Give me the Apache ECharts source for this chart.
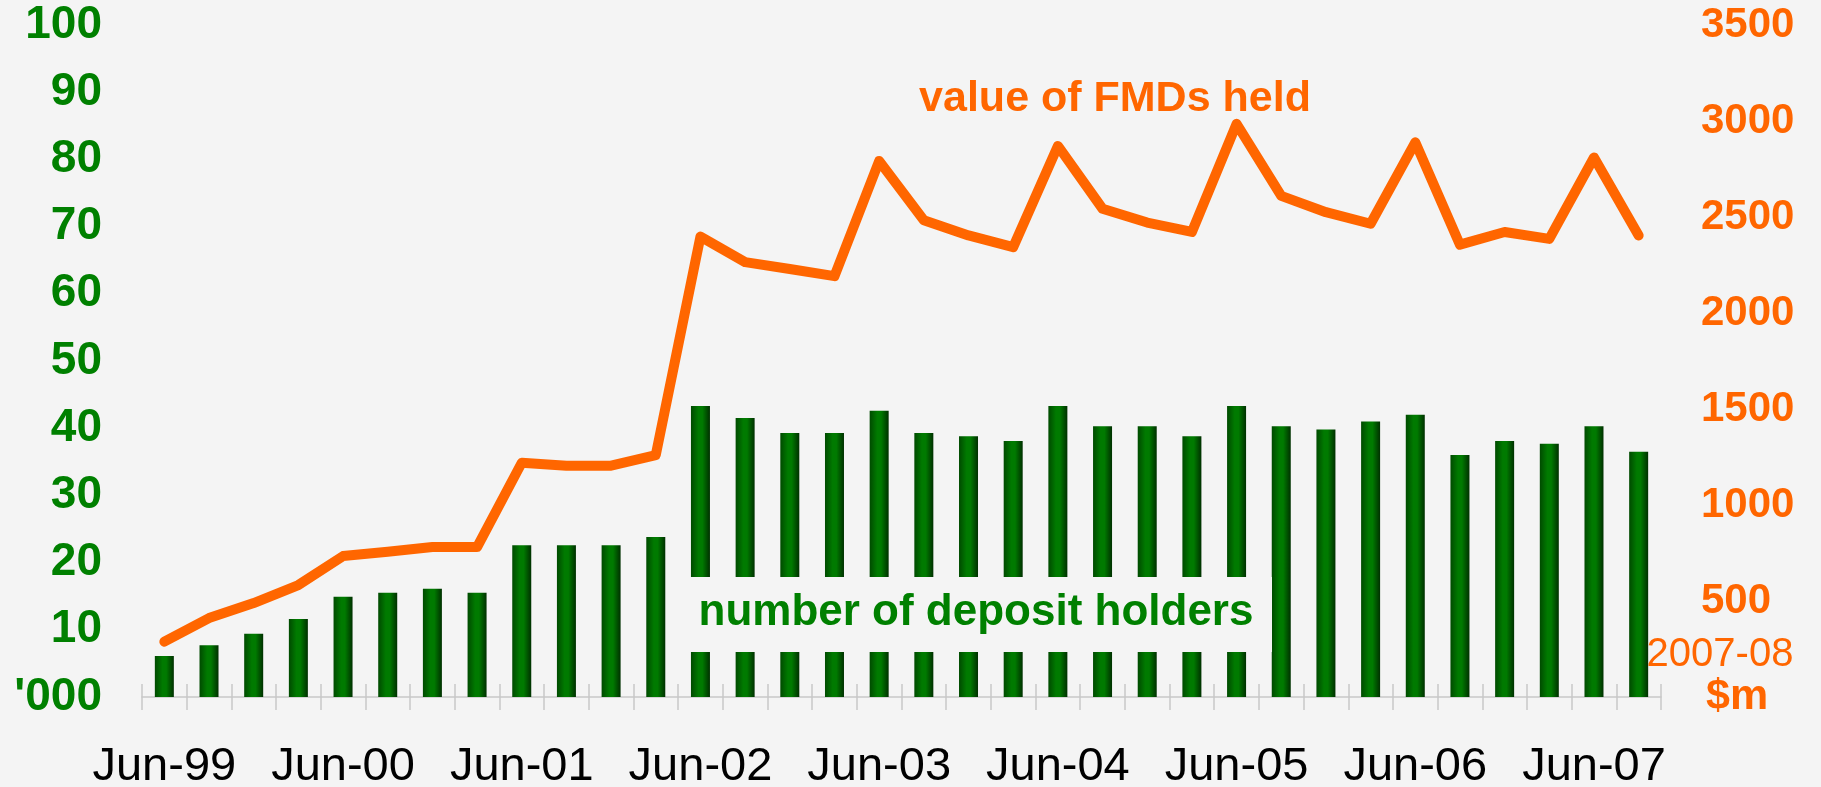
<!DOCTYPE html>
<html>
<head>
<meta charset="utf-8">
<script src="https://cdn.jsdelivr.net/npm/echarts@6/dist/echarts.min.js"></script>
<style>
html, body { margin: 0; padding: 0; background: #f4f4f4; }
#chart { width: 1821px; height: 787px; }
</style>
</head>
<body>
<div id="chart"></div>
<script>
// quarters, Jun-99 .. Sep-07
var categories = ['Jun-99', 'Sep-99', 'Dec-99', 'Mar-00', 'Jun-00', 'Sep-00', 'Dec-00', 'Mar-01',
    'Jun-01', 'Sep-01', 'Dec-01', 'Mar-02', 'Jun-02', 'Sep-02', 'Dec-02', 'Mar-03',
    'Jun-03', 'Sep-03', 'Dec-03', 'Mar-04', 'Jun-04', 'Sep-04', 'Dec-04', 'Mar-05',
    'Jun-05', 'Sep-05', 'Dec-05', 'Mar-06', 'Jun-06', 'Sep-06', 'Dec-06', 'Mar-07',
    'Jun-07', 'Sep-07'];

// number of deposit holders, '000 (left axis)
var holders = [6.1, 7.7, 9.4, 11.6, 14.9, 15.5, 16.1, 15.5, 22.6, 22.6, 22.6, 23.8,
    43.3, 41.5, 39.3, 39.3, 42.6, 39.3, 38.8, 38.1, 43.3, 40.3, 40.3, 38.8,
    43.3, 40.3, 39.8, 41.0, 42.0, 36.0, 38.1, 37.7, 40.3, 36.5];

// value of FMDs held, 2007-08 $m (right axis)
var fmdValue = [288, 411, 489, 583, 734, 757, 781, 781, 1220, 1205, 1205, 1260,
    2398, 2265, 2229, 2192, 2792, 2483, 2404, 2343, 2870, 2543, 2471, 2422,
    2985, 2610, 2525, 2465, 2889, 2356, 2422, 2386, 2810, 2404];

var leftTicks = [0, 100, 10];
var rightTicks = [0, 3500, 500];

var FONT = "'Liberation Sans', Arial, sans-serif";
var GREEN = '#008000';
var ORANGE = '#ff6600';

var myChart = echarts.init(document.getElementById('chart'));

var option = {
    backgroundColor: '#f4f4f4',
    animation: false,
    grid: { left: 142, right: 160, top: 25, bottom: 90, containLabel: false, outerBoundsMode: 'none' },
    xAxis: [{
        type: 'category',
        data: categories,
        boundaryGap: true,
        axisLine: { lineStyle: { color: '#c8c8c8', width: 1.5 } },
        axisTick: { show: true, interval: 0, length: 13, lineStyle: { color: '#c8c8c8', width: 1.5 } },
        axisLabel: {
            interval: 3,
            margin: 47,
            color: '#000',
            fontFamily: FONT,
            fontSize: 47
        }
    }, {
        // second axis only to draw the upper half of the crossing ticks
        type: 'category',
        data: categories,
        position: 'bottom',
        boundaryGap: true,
        axisLine: { show: false },
        axisTick: { show: true, interval: 0, inside: true, length: 13, lineStyle: { color: '#c8c8c8', width: 1.5 } },
        axisLabel: { show: false }
    }],
    yAxis: [{
        type: 'value',
        min: leftTicks[0],
        max: leftTicks[1],
        interval: leftTicks[2],
        splitLine: { show: false },
        axisLine: { show: false },
        axisTick: { show: false },
        axisLabel: {
            margin: 40,
            color: GREEN,
            fontFamily: FONT,
            fontWeight: 'bold',
            fontSize: 46,
            formatter: function (v)
            {
                return v === 0 ? "'000" : v;
            }
        }
    }, {
        type: 'value',
        position: 'right',
        min: rightTicks[0],
        max: rightTicks[1],
        interval: rightTicks[2],
        splitLine: { show: false },
        axisLine: { show: false },
        axisTick: { show: false },
        axisLabel: {
            margin: 40,
            color: ORANGE,
            fontFamily: FONT,
            fontWeight: 'bold',
            fontSize: 42,
            formatter: function (v)
            {
                return v === 0 ? '{m|$m}' : v;
            },
            rich: {
                m: { color: ORANGE, fontFamily: FONT, fontWeight: 'bold', fontSize: 43, padding: [0, 0, 0, 5] }
            }
        }
    }],
    series: [{
        name: 'number of deposit holders',
        type: 'bar',
        xAxisIndex: 0,
        yAxisIndex: 0,
        barWidth: 19,
        data: holders,
        itemStyle: {
            color: new echarts.graphic.LinearGradient(0, 0, 1, 0, [
                { offset: 0, color: '#004a00' },
                { offset: 0.4, color: '#007a00' },
                { offset: 0.6, color: '#007a00' },
                { offset: 1, color: '#003000' }
            ])
        }
    }, {
        name: 'value of FMDs held',
        type: 'line',
        xAxisIndex: 0,
        yAxisIndex: 1,
        data: fmdValue,
        showSymbol: false,
        symbol: 'none',
        lineStyle: { color: ORANGE, width: 10, cap: 'round', join: 'round' }
    }],
    graphic: [{
        type: 'rect',
        z: 100,
        shape: { x: 667, y: 577, width: 605, height: 75 },
        style: { fill: '#f4f4f4' }
    }, {
        type: 'text',
        z: 101,
        x: 976,
        y: 613,
        style: {
            text: 'number of deposit holders',
            fill: GREEN,
            font: 'bold 44px ' + FONT,
            textAlign: 'center',
            textVerticalAlign: 'middle'
        }
    }, {
        type: 'text',
        z: 101,
        x: 1115,
        y: 99,
        style: {
            text: 'value of FMDs held',
            fill: ORANGE,
            font: 'bold 43px ' + FONT,
            textAlign: 'center',
            textVerticalAlign: 'middle'
        }
    }, {
        type: 'text',
        z: 101,
        x: 1720,
        y: 655,
        style: {
            text: '2007-08',
            fill: ORANGE,
            font: '40px ' + FONT,
            textAlign: 'center',
            textVerticalAlign: 'middle'
        }
    }]
};

myChart.setOption(option);
</script>
</body>
</html>
